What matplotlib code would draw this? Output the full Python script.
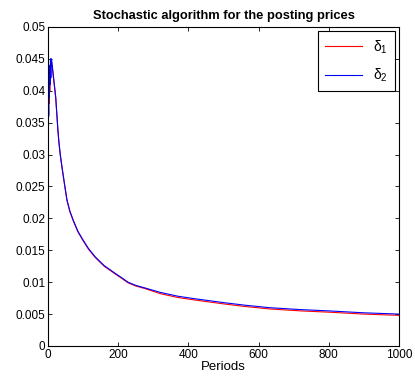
import matplotlib
matplotlib.use("Agg")
import matplotlib.pyplot as plt

plt.rcParams["font.family"] = ["Liberation Sans", "DejaVu Sans"]
plt.rcParams["mathtext.fontset"] = "custom"
plt.rcParams["mathtext.rm"] = "Liberation Sans"
plt.rcParams["mathtext.it"] = "Liberation Sans"

# values
periods = [0, 1, 2, 3, 4, 5, 6, 7, 8, 9, 10, 13, 16, 19, 22, 25, 28,
           31, 35, 40, 47, 54, 62, 72, 85, 100, 115, 134, 160, 191, 210,
           228, 250, 276, 320, 370, 419, 500, 560, 632, 720, 800, 900, 1000]
delta1 = [0, 0.034, 0.042, 0.038, 0.043, 0.040, 0.044, 0.042, 0.044, 0.044,
          0.0445, 0.0433, 0.0418, 0.0403, 0.0388, 0.0364, 0.0339,
          0.0319, 0.0299, 0.0279, 0.0253, 0.0228, 0.0211, 0.0196, 0.0179,
          0.0165, 0.0152, 0.0139, 0.0125, 0.0113, 0.0106, 0.0099, 0.0094,
          0.0090, 0.0082, 0.0076, 0.0072, 0.0066, 0.0062, 0.0058, 0.0055,
          0.0053, 0.0050, 0.0048]
delta2 = [0, 0.040, 0.036, 0.043, 0.039, 0.044, 0.041, 0.045, 0.042, 0.045,
          0.045, 0.0435, 0.0420, 0.0405, 0.0390, 0.0365, 0.0340,
          0.0320, 0.0300, 0.0280, 0.0254, 0.0229, 0.0212, 0.0197, 0.0180,
          0.0166, 0.0153, 0.0140, 0.0126, 0.0114, 0.0107, 0.0100, 0.0095,
          0.0091, 0.0084, 0.0078, 0.0074, 0.0068, 0.0064, 0.0060, 0.0057,
          0.0055, 0.0052, 0.0050]

fig = plt.figure(figsize=(4.15, 3.78), dpi=100)
ax = fig.add_axes([0.1157, 0.0847, 0.8457, 0.8439])

ax.plot(periods, delta1, c="red", lw=0.8, label=r"$\delta_1$")
ax.plot(periods, delta2, c="blue", lw=0.8, label=r"$\delta_2$")

ax.set_xlim(0, 1000)
ax.set_ylim(0, 0.05)
ax.set_xticks([0, 200, 400, 600, 800, 1000])
ax.set_yticks([0, 0.005, 0.01, 0.015, 0.02, 0.025, 0.03, 0.035, 0.04, 0.045, 0.05])
ax.set_yticklabels(["0", "0.005", "0.01", "0.015", "0.02", "0.025", "0.03",
                    "0.035", "0.04", "0.045", "0.05"])
ax.tick_params(axis="both", direction="in", top=True, right=True,
               labelsize=8.5, length=3, width=0.6, pad=2)
for s in ax.spines.values():
    s.set_linewidth(0.8)

ax.set_title("Stochastic algorithm for the posting prices", fontsize=9.3,
             fontweight="bold", pad=6)
ax.set_xlabel("Periods", fontsize=9.5, labelpad=0)

leg = ax.legend(loc="upper right", fontsize=10, fancybox=False,
                edgecolor="black", framealpha=1, handlelength=2.7,
                labelspacing=0.8, borderpad=0.5, borderaxespad=0.3)
leg.get_frame().set_linewidth(0.8)

fig.savefig("out.png", dpi=100)
